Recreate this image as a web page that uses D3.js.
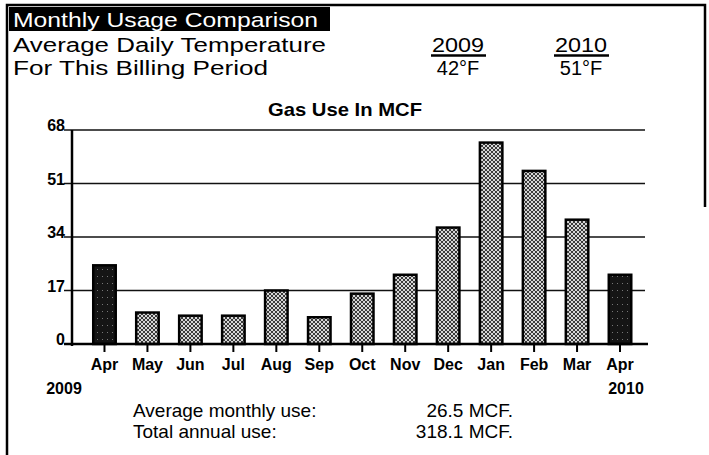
<!DOCTYPE html>
<html>
<head>
<meta charset="utf-8">
<script src="https://cdn.jsdelivr.net/npm/d3@7"></script>
<style>
	body { margin: 0; background: #fff; }
	text { font-family: "Liberation Sans", Arial, Helvetica, sans-serif; }
</style>
</head>
<body>
<svg id="chart" width="709" height="455"></svg>
<script>
// chart data
var months = ["Apr", "May", "Jun", "Jul", "Aug", "Sep", "Oct", "Nov", "Dec", "Jan", "Feb", "Mar", "Apr"];
var usage = [25, 10, 9, 9, 17, 8.5, 16, 22, 37, 64, 55, 39.5, 22];
var current = [true, false, false, false, false, false, false, false, false, false, false, false, true];
var yTicks = [0, 17, 34, 51, 68];
var years = ["2009", "2010"];
var temps = ["42°F", "51°F"];
var summaryLabels = ["Average monthly use:", "Total annual use:"];
var summaryValues = ["26.5 MCF.", "318.1 MCF."];

var svg = d3.select("#chart");

// fill patterns
var defs = svg.append("defs");
var light = defs.append("pattern")
	.attr("id", "light")
	.attr("width", 4)
	.attr("height", 4)
	.attr("patternUnits", "userSpaceOnUse");
light.append("rect")
	.attr("width", 4)
	.attr("height", 4)
	.style("fill", "#d6d6d6");
light.append("path")
	.attr("d", "M0,0L4,4M4,0L0,4")
	.style("stroke", "#3a3a3a")
	.style("stroke-width", 1);

var dark = defs.append("pattern")
	.attr("id", "dark")
	.attr("width", 5)
	.attr("height", 7)
	.attr("patternUnits", "userSpaceOnUse");
dark.append("rect")
	.attr("width", 5)
	.attr("height", 7)
	.style("fill", "#151515");
dark.append("rect")
	.attr("x", 2)
	.attr("y", 3)
	.attr("width", 1)
	.attr("height", 1)
	.style("fill", "#777");

// frame
svg.append("path")
	.attr("d", "M7,455V5H705V207")
	.style("fill", "none")
	.style("stroke", "#000")
	.style("stroke-width", 2.5);

function addText(x, y, str, size, weight, anchor, fill, len) {
	var t = svg.append("text")
	.attr("x", x)
	.attr("y", y)
	.style("font-size", size + "px")
	.style("font-weight", weight)
	.style("text-anchor", anchor)
	.style("fill", fill || "#000")
	.text(str);
	if (len) {
		t.attr("textLength", len)
		.attr("lengthAdjust", "spacingAndGlyphs");
	}
	return t;
}

// header
svg.append("rect")
	.attr("x", 9)
	.attr("y", 7)
	.attr("width", 321)
	.attr("height", 24)
	.style("fill", "#000");
addText(13, 27, "Monthly Usage Comparison", 21, "normal", "start", "#fff", 305);
addText(13, 52, "Average Daily Temperature", 20, "normal", "start", null, 313);
addText(13, 75, "For This Billing Period", 20, "normal", "start", null, 255);

var yearX = [458, 581];
years.forEach(function (d, i) {
	addText(yearX[i], 52, d, 20, "normal", "middle", null, 52);
	svg.append("line")
	.attr("x1", yearX[i] - 27)
	.attr("x2", yearX[i] + 28)
	.attr("y1", 55.5)
	.attr("y2", 55.5)
	.style("stroke", "#000")
	.style("stroke-width", 2.5);
	addText(yearX[i], 75, temps[i], 20, "normal", "middle");
});

addText(345, 116, "Gas Use In MCF", 19, "bold", "middle", null, 154);

// scales
var x = d3.scaleBand()
	.domain(d3.range(months.length))
	.range([83, 641.5])
	.paddingInner(0.43)
	.paddingOuter(0.215);

var y = d3.scaleLinear()
	.domain([0, 68])
	.range([344, 130]);

// grid lines + y labels
svg.selectAll(".grid")
	.data(yTicks)
	.enter()
	.append("line")
	.attr("x1", 64)
	.attr("x2", 645)
	.attr("y1", function (d) { return y(d); })
	.attr("y2", function (d) { return y(d); })
	.style("stroke", "#111")
	.style("stroke-width", 1.3);

svg.selectAll(".ylab")
	.data(yTicks)
	.enter()
	.append("text")
	.attr("x", 65)
	.attr("y", function (d) { return y(d) + 1; })
	.style("font-size", "16px")
	.style("font-weight", "bold")
	.style("text-anchor", "end")
	.text(function (d) { return d; });

// bars
svg.selectAll(".bar")
	.data(usage)
	.enter()
	.append("rect")
	.attr("x", function (d, i) { return x(i) + 1; })
	.attr("y", function (d) { return y(d); })
	.attr("width", x.bandwidth() - 2)
	.attr("height", function (d) { return y(0) - y(d); })
	.style("fill", function (d, i) { return current[i] ? "url(#dark)" : "url(#light)"; })
	.style("stroke", "#000")
	.style("stroke-width", 2.5);

// axes
svg.append("line")
	.attr("x1", 72)
	.attr("x2", 72)
	.attr("y1", y(68))
	.attr("y2", y(0) + 2)
	.style("stroke", "#000")
	.style("stroke-width", 2.5);

var xAxis = d3.axisBottom(x)
	.tickSize(8)
	.tickFormat(function (i) { return months[i]; });

var gx = svg.append("g")
	.attr("transform", "translate(0," + y(0) + ")")
	.call(xAxis);
gx.select(".domain").remove();
gx.selectAll(".tick line")
	.style("stroke", "#000")
	.style("stroke-width", 2);
gx.selectAll(".tick text")
	.attr("y", 26)
	.attr("dy", null)
	.style("font-family", "'Liberation Sans', Arial, Helvetica, sans-serif")
	.style("font-size", "16px")
	.style("font-weight", "bold")
	.style("fill", "#000");

svg.append("line")
	.attr("x1", 64)
	.attr("x2", 648)
	.attr("y1", y(0))
	.attr("y2", y(0))
	.style("stroke", "#000")
	.style("stroke-width", 2.5);

addText(64, 394, years[0], 16, "bold", "middle");
addText(626, 394, years[1], 16, "bold", "middle");

// summary
summaryLabels.forEach(function (d, i) {
	addText(133, 417 + i * 21, d, 19, "normal", "start");
	addText(513, 417 + i * 21, summaryValues[i], 19, "normal", "end");
});
</script>
</body>
</html>
